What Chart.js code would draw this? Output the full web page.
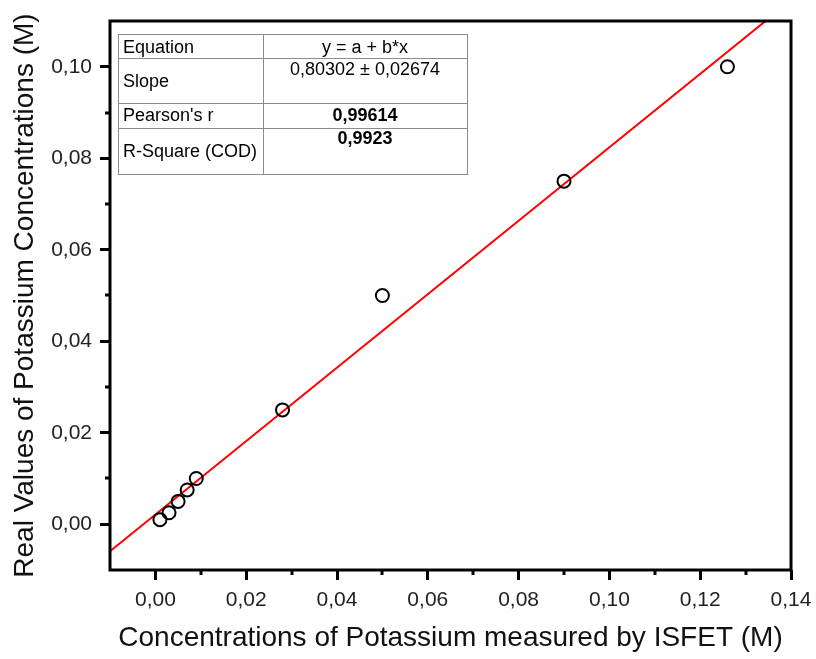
<!DOCTYPE html>
<html>
<head>
<meta charset="utf-8">
<script src="https://cdn.jsdelivr.net/npm/chart.js@4.4.1/dist/chart.umd.min.js"></script>
<style>
  html, body { margin: 0; padding: 0; background: #fff; }
  canvas { display: block; }
</style>
</head>
<body>
<canvas id="chart" width="816" height="659"></canvas>
<script>
// values
const measuredK = [0.001, 0.003, 0.005, 0.007, 0.009, 0.028, 0.050, 0.090, 0.126];
const realK     = [0.001, 0.0025, 0.005, 0.0075, 0.010, 0.025, 0.050, 0.075, 0.100];

// linear fit y = a + b*x, ends of the red line
const fitX = [-0.01, 0.14];
const fitY = [-0.0059, 0.1145];

// axis ticks
const xTickValues = [0, 0.02, 0.04, 0.06, 0.08, 0.10, 0.12, 0.14];
const yTickValues = [0, 0.02, 0.04, 0.06, 0.08, 0.10];
const xMinorValues = [0.01, 0.03, 0.05, 0.07, 0.09, 0.11, 0.13];
const yMinorValues = [0.01, 0.03, 0.05, 0.07, 0.09];

// fit statistics table
const tableLabels = ['Equation', 'Slope', "Pearson's r", 'R-Square (COD)'];
const tableValues = ['y = a + b*x', '0,80302 \u00b1 0,02674', '0,99614', '0,9923'];
const tableBold   = [false, false, true, true];

const FONT = '"Liberation Sans", Arial, sans-serif';

function fmt(v) {
  return v.toFixed(2).replace('.', ',');
}

// frame, minor ticks and the table
const decorPlugin = {
  id: 'decor',
  afterDraw(chart) {
    const ctx = chart.ctx;
    const a = chart.chartArea;
    const xs = chart.scales.x;
    const ys = chart.scales.y;
    ctx.save();

    // minor ticks
    ctx.strokeStyle = '#000';
    ctx.lineWidth = 3;
    ctx.beginPath();
    xMinorValues.forEach(v => {
      const px = Math.round(xs.getPixelForValue(v));
      ctx.moveTo(px, a.bottom);
      ctx.lineTo(px, a.bottom + 5);
    });
    yMinorValues.forEach(v => {
      const py = Math.round(ys.getPixelForValue(v));
      ctx.moveTo(a.left, py);
      ctx.lineTo(a.left - 5, py);
    });
    ctx.stroke();

    // frame
    ctx.lineWidth = 3;
    ctx.strokeRect(a.left, a.top, a.right - a.left, a.bottom - a.top);

    // table
    const tl = a.left + 8;
    const tt = a.top + 13;
    const tw = 349;
    const col = 145;
    const rowH = [24, 45, 25, 46];
    const labelBase = [19, 53, 87, 123];
    const valueBase = [19, 41, 87, 110];

    ctx.fillStyle = '#fff';
    const th = rowH.reduce((s, h) => s + h, 0);
    ctx.fillRect(tl, tt, tw, th);

    ctx.strokeStyle = '#8c8c8c';
    ctx.lineWidth = 1;
    ctx.strokeRect(tl + 0.5, tt + 0.5, tw, th);
    ctx.beginPath();
    ctx.moveTo(tl + col + 0.5, tt);
    ctx.lineTo(tl + col + 0.5, tt + th);
    let y = tt;
    rowH.slice(0, -1).forEach(h => {
      y += h;
      ctx.moveTo(tl, y + 0.5);
      ctx.lineTo(tl + tw, y + 0.5);
    });
    ctx.stroke();

    ctx.fillStyle = '#000';
    ctx.textBaseline = 'alphabetic';
    tableLabels.forEach((t, i) => {
      ctx.font = '18px ' + FONT;
      ctx.textAlign = 'left';
      ctx.fillText(t, tl + 5, tt + labelBase[i]);
      ctx.font = (tableBold[i] ? 'bold ' : '') + '18px ' + FONT;
      ctx.textAlign = 'center';
      ctx.fillText(tableValues[i], tl + col + (tw - col) / 2, tt + valueBase[i]);
    });

    ctx.restore();
  }
};

new Chart(document.getElementById('chart'), {
  type: 'scatter',
  data: {
    datasets: [
      {
        type: 'line',
        data: fitX.map((x, i) => ({ x: x, y: fitY[i] })),
        borderColor: '#ff0000',
        borderWidth: 2,
        pointRadius: 0,
        fill: false,
        order: 2
      },
      {
        data: measuredK.map((x, i) => ({ x: x, y: realK[i] })),
        pointStyle: 'circle',
        pointRadius: 6.5,
        pointBorderWidth: 2,
        pointBorderColor: '#000',
        pointBackgroundColor: 'rgba(0,0,0,0)',
        order: 1
      }
    ]
  },
  options: {
    responsive: false,
    animation: false,
    layout: { padding: { top: 21, right: 25, left: 0, bottom: 0 } },
    plugins: {
      legend: { display: false },
      tooltip: { enabled: false }
    },
    scales: {
      x: {
        type: 'linear',
        min: -0.01,
        max: 0.14,
        border: { display: false },
        grid: { drawOnChartArea: false, drawTicks: true, tickLength: 10, tickWidth: 3, tickColor: '#000' },
        afterBuildTicks(scale) { scale.ticks = xTickValues.map(v => ({ value: v })); },
        afterFit(scale) {
          scale.height = 89;
          scale.paddingLeft = 0;
          scale.paddingRight = 0;
        },
        ticks: {
          color: '#222',
          font: { family: FONT, size: 21 },
          padding: 8,
          maxRotation: 0,
          callback: v => fmt(v)
        },
        title: {
          display: true,
          text: 'Concentrations of Potassium measured by ISFET (M)',
          color: '#111',
          font: { family: FONT, size: 28 },
          padding: { top: 0, bottom: 4 }
        }
      },
      y: {
        type: 'linear',
        min: -0.01,
        max: 0.11,
        border: { display: false },
        grid: { drawOnChartArea: false, drawTicks: true, tickLength: 10, tickWidth: 3, tickColor: '#000' },
        afterBuildTicks(scale) { scale.ticks = yTickValues.map(v => ({ value: v })); },
        afterFit(scale) { scale.width = 110; },
        ticks: {
          color: '#222',
          font: { family: FONT, size: 21 },
          padding: 8,
          callback: v => fmt(v)
        },
        title: {
          display: true,
          text: 'Real Values of Potassium Concentrations (M)',
          color: '#111',
          font: { family: FONT, size: 28 },
          padding: { top: 8, bottom: 0 }
        }
      }
    }
  },
  plugins: [decorPlugin]
});
</script>
</body>
</html>
